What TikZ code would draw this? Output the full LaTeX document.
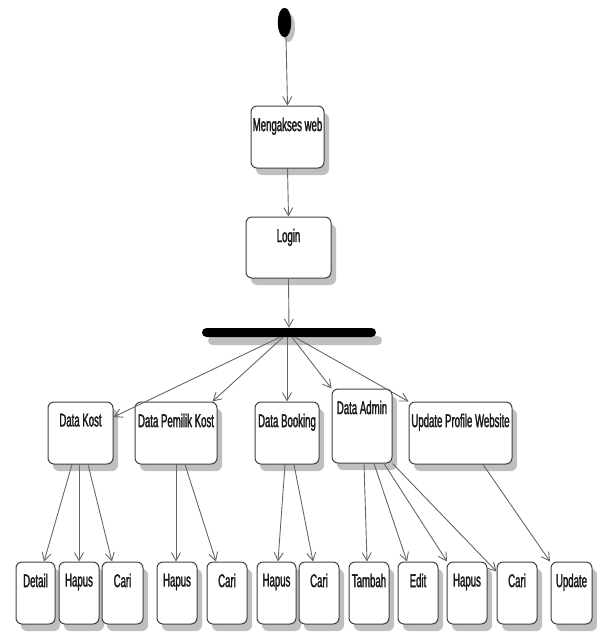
\documentclass[tikz,border=0pt]{standalone}
\usepackage{fontspec}
\setmainfont{Liberation Sans}[FakeStretch=0.52]
\newfontfamily\actfont{Liberation Sans}[FakeStretch=0.52, FakeBold=1.5]
\usetikzlibrary{arrows.meta,shapes.geometric}
\begin{document}
\begin{tikzpicture}[x=1pt,y=-1pt,
  shade box/.style={preaction={fill=black!25, transform canvas={xshift=5pt, yshift=-7pt}}},
  act/.style={rectangle, rounded corners=6pt, draw=black!75, line width=1pt, fill=white,
    shade box, minimum height=62pt, inner sep=0pt,
    label={[anchor=north, inner sep=0pt, yshift=-12pt, font=\actfont\fontsize{18.5}{20}\selectfont, text=black!90]north:#1}},
  flow/.style={draw=black!60, line width=0.9pt, -{Straight Barb[length=8pt,width=9pt]}},
  startnode/.style={ellipse, fill=black, draw=black, inner sep=0pt, minimum width=13pt, minimum height=29pt,
    preaction={fill=black!25, transform canvas={xshift=4pt, yshift=-5pt}}},
  forkbar/.style={rectangle, rounded corners=4.5pt, fill=black, inner sep=0pt, minimum width=174pt, minimum height=9pt,
    preaction={fill=black!25, transform canvas={xshift=6pt, yshift=-8pt}}}]
\useasboundingbox (0,0) rectangle (597,632);

\node[startnode] (init) at (284.5,22.5) {};
\node[act=Mengakses web, minimum width=73pt] (web) at (287.5,137) {};
\node[act=Login, minimum width=85pt, minimum height=61pt] (login) at (288.5,247.5) {};
\node[forkbar] (bar) at (289,332.5) {};

\node[act=Data Kost, minimum width=65pt] (kost) at (80.5,433) {};
\node[act=Data Pemilik Kost, minimum width=82pt] (pemilik) at (176,433) {};
\node[act=Data Booking, minimum width=64pt] (booking) at (287,433) {};
\node[act=Data Admin, minimum width=60pt, minimum height=74pt] (admin) at (362,426) {};
\node[act=Update Profile Website, minimum width=103pt] (upd) at (460.5,433) {};

\node[act=Detail, minimum width=39pt] (detail) at (35.5,593) {};
\node[act=Hapus, minimum width=40pt] (hapusA) at (79,593) {};
\node[act=Cari, minimum width=41pt] (cariA) at (122.5,593) {};
\node[act=Hapus, minimum width=40pt] (hapusB) at (177,593) {};
\node[act=Cari, minimum width=40pt] (cariB) at (227,593) {};
\node[act=Hapus, minimum width=39pt] (hapusC) at (276.5,593) {};
\node[act=Cari, minimum width=40pt] (cariC) at (319,593) {};
\node[act=Tambah, minimum width=40pt] (tambah) at (369,593) {};
\node[act=Edit, minimum width=40pt] (edit) at (418,593) {};
\node[act=Hapus, minimum width=40pt] (hapusD) at (467,593) {};
\node[act=Cari, minimum width=40pt] (cariD) at (517,593) {};
\node[act=Update, minimum width=41pt] (update) at (571.5,593) {};

\draw[flow] ([xshift=1.5pt]init.south) -- (web.north);
\draw[flow] (web.south) -- (login.north);
\draw[flow] (login.south) -- (bar.north);

\draw[flow] ([xshift=-9pt]bar.south) -- ([yshift=16pt]kost.east);
\draw[flow] ([xshift=-6pt]bar.south) -- ([xshift=-5pt]pemilik.north east);
\draw[flow] ([xshift=-2pt]bar.south) -- (booking.north);
\draw[flow] ([xshift=3pt]bar.south) -- (admin.north west);
\draw[flow] ([xshift=6pt]bar.south) -- (upd.north west);

\draw[flow] ([xshift=-8.5pt]kost.south) -- ([xshift=8.5pt]detail.north);
\draw[flow] ([xshift=-1.5pt]kost.south) -- (hapusA.north);
\draw[flow] ([xshift=7.5pt]kost.south) -- ([xshift=-10.5pt]cariA.north);
\draw[flow] (pemilik.south) -- ([xshift=-1pt]hapusB.north);
\draw[flow] ([xshift=9pt]pemilik.south) -- ([xshift=-11pt]cariB.north);
\draw[flow] ([xshift=-2pt]booking.south) -- ([xshift=1.5pt]hapusC.north);
\draw[flow] ([xshift=7pt]booking.south) -- ([xshift=-6pt]cariC.north);
\draw[flow] ([xshift=2pt]admin.south) -- ([xshift=-2pt]tambah.north);
\draw[flow] ([xshift=12pt]admin.south) -- ([xshift=-11pt]edit.north);
\draw[flow] ([xshift=22pt]admin.south) -- ([xshift=-20pt]hapusD.north);
\draw[flow] (admin.south east) -- ([yshift=-10pt]cariD.north west);
\draw[flow] ([xshift=22.5pt]upd.south) -- ([xshift=-21.5pt]update.north);
\end{tikzpicture}
\end{document}
